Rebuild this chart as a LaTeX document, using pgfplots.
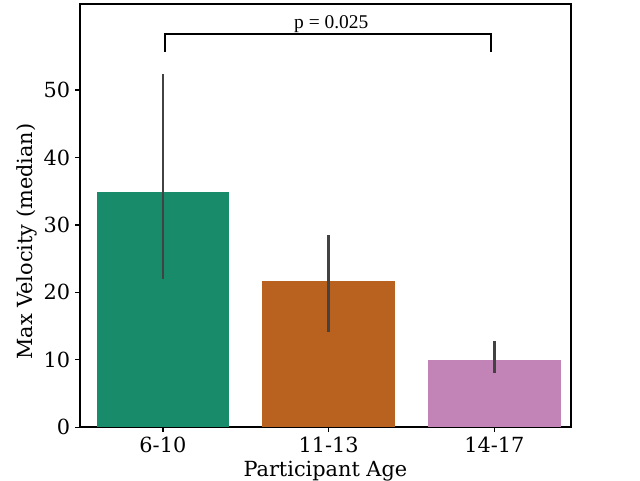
\documentclass[border=0pt]{standalone}
\usepackage{fontspec}
\setmainfont{DejaVu Serif}
\newfontfamily\timesf{Liberation Serif}
\usepackage{pgfplots}
\pgfplotsset{compat=1.18}
\definecolor{cA}{RGB}{23,139,106}
\definecolor{cB}{RGB}{185,97,30}
\definecolor{cC}{RGB}{194,131,182}
\definecolor{errc}{RGB}{66,66,66}
\begin{document}
\begin{tikzpicture}[x=1bp,y=1bp]
\useasboundingbox (0,0) rectangle (460.8,345.6);
\begin{axis}[
  at={(57.6bp,37.94bp)}, anchor=south west,
  width=353.3bp, height=304.8bp, scale only axis,
  xmin=-0.5, xmax=2.46, ymin=0, ymax=62.75,
  xtick={0,1,2}, xticklabels={6-10,11-13,14-17},
  ytick={0,10,20,30,40,50},
  tick align=outside, tick pos=left,
  major tick length=3.5bp,
  every tick/.style={black, line width=0.9bp},
  axis line style={line width=1.4bp},
  /pgf/number format/assume math mode=true,
  tick label style={font=\fontsize{15bp}{17bp}\selectfont},
  label style={font=\fontsize{15bp}{17bp}\selectfont},
  xlabel={Participant Age},
  ylabel={Max Velocity (median)},
  xlabel style={yshift=1bp},
  ylabel style={at={(ticklabel cs:0.4386)}, yshift=-2bp},
  clip=false,
]
\addplot[ybar, bar width=0.8, bar shift=0pt, fill=cA, draw=none] coordinates {(0,34.85)};
\addplot[ybar, bar width=0.8, bar shift=0pt, fill=cB, draw=none] coordinates {(1,21.69)};
\addplot[ybar, bar width=0.8, bar shift=0pt, fill=cC, draw=none] coordinates {(2,9.98)};
\addplot[draw=none, mark=none, forget plot,
  error bars/.cd, y dir=both, y explicit,
  error mark=none, error bar style={errc, line width=2bp}]
  coordinates {
    (0,34.85) += (0,17.52) -= (0,12.87)
    (1,21.69) += (0,6.81) -= (0,7.52)
    (2,9.98) += (0,2.81) -= (0,1.88)
  };
\addplot[black, line width=1.4bp, mark=none, line join=miter] coordinates {(0.01,55.68) (0.01,58.35) (1.98,58.35) (1.98,55.68)};
\node[anchor=base, font=\timesf\fontsize{14bp}{16bp}\selectfont, inner sep=0pt] at (axis cs:1.016,58.35) [yshift=3.6bp] {p = 0.025};
\end{axis}
\end{tikzpicture}
\end{document}
